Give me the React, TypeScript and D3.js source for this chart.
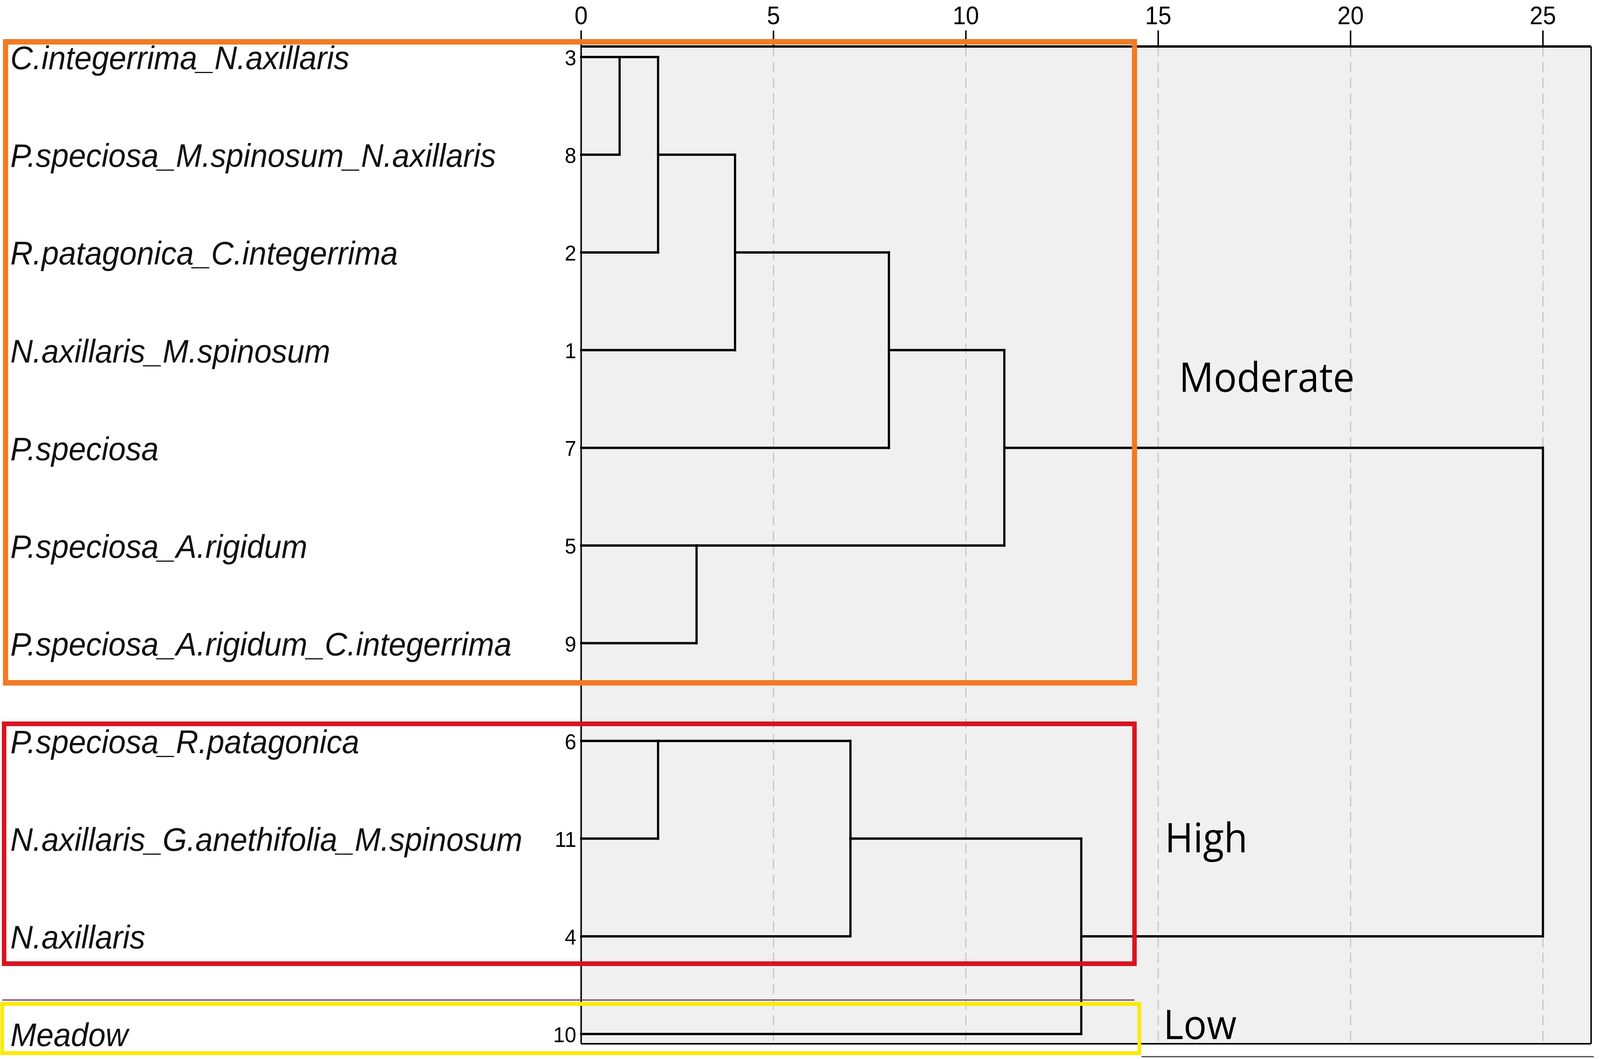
import React from 'react';
import * as d3 from 'd3';

// leaves, top to bottom, as the dendrogram orders them
const leafIds = ['3', '8', '2', '1', '7', '5', '9', '6', '11', '4', '10'];
const leafLabels = [
  'C.integerrima_N.axillaris',
  'P.speciosa_M.spinosum_N.axillaris',
  'R.patagonica_C.integerrima',
  'N.axillaris_M.spinosum',
  'P.speciosa',
  'P.speciosa_A.rigidum',
  'P.speciosa_A.rigidum_C.integerrima',
  'P.speciosa_R.patagonica',
  'N.axillaris_G.anethifolia_M.spinosum',
  'N.axillaris',
  'Meadow',
];

// agglomeration steps: cluster c{i+1} = mergeLeft[i] + mergeRight[i] at mergeHeights[i]
const mergeLeft = ['3', 'c1', 'c2', 'c3', '5', 'c4', '6', 'c7', 'c8', 'c6'];
const mergeRight = ['8', '2', '1', '7', '9', 'c5', '11', '4', '10', 'c9'];
const mergeHeights = [1, 2, 4, 8, 3, 11, 2, 7, 13, 25];

const axisTicks = [0, 5, 10, 15, 20, 25];

const groupNames = ['Moderate', 'High', 'Low'];

const W = 4317;
const H = 2711;

export default function App() {
  const x = d3.scaleLinear().domain([0, 25]).range([1568, 4163]);
  const y = d3.scaleLinear().domain([0, leafIds.length - 1]).range([146, 2647]);

  const plotTop = 119;
  const plotBottom = 2672;
  const plotRight = 4293;

  // node positions (row, height); SPSS draws a cluster on the rounded-down middle row
  const nodes: Record<string, { row: number; h: number }> = {};
  leafIds.forEach((id, i) => (nodes[id] = { row: i, h: 0 }));
  const segs: { x1: number; y1: number; x2: number; y2: number }[] = [];
  mergeLeft.forEach((l, i) => {
    const a = nodes[l];
    const b = nodes[mergeRight[i]];
    const h = mergeHeights[i];
    segs.push({ x1: x(a.h), y1: y(a.row), x2: x(h), y2: y(a.row) });
    segs.push({ x1: x(b.h), y1: y(b.row), x2: x(h), y2: y(b.row) });
    segs.push({ x1: x(h), y1: y(a.row), x2: x(h), y2: y(b.row) });
    nodes['c' + (i + 1)] = { row: Math.floor((a.row + b.row) / 2), h };
  });

  const labelFont = '"Liberation Sans", Arial, sans-serif';
  const groupFont = '"Open Sans", "Noto Sans", sans-serif';

  const boxes = [
    { x0: 15, y0: 107, x1: 3061, y1: 1748, color: '#f27a24', w: 14 },
    { x0: 11, y0: 1853, x1: 3061, y1: 2467, color: '#d8141f', w: 12 },
    { x0: 6, y0: 2570, x1: 3074, y1: 2696, color: '#fcea08', w: 10 },
  ];
  const groupPos = [
    { x: 3181, y: 1003 },
    { x: 3143, y: 2182 },
    { x: 3139, y: 2660 },
  ];

  return (
    <div style={{ position: 'fixed', left: 0, top: 0, width: '100vw', height: '100vh', overflow: 'hidden' }}>
      <svg width="100%" height="100%" viewBox={`0 0 ${W} ${H}`} preserveAspectRatio="none"
        style={{ display: 'block', background: '#ffffff' }}>
        <rect x={x(0)} y={plotTop} width={plotRight - x(0)} height={plotBottom - plotTop} fill="#f0f0f0" />

        {axisTicks.filter(t => t > 0).map(t => (
          <line key={'g' + t} x1={x(t)} x2={x(t)} y1={plotTop} y2={plotBottom}
            stroke="#c4c4c4" strokeWidth={3} strokeDasharray="26 14" />
        ))}

        {/* frame */}
        <line x1={x(0)} x2={plotRight} y1={plotTop} y2={plotTop} stroke="#000" strokeWidth={6} />
        <line x1={plotRight} x2={plotRight} y1={plotTop} y2={plotBottom} stroke="#000" strokeWidth={4} />
        <line x1={x(0)} x2={plotRight} y1={plotBottom} y2={plotBottom} stroke="#000" strokeWidth={4} />
        <line x1={x(0)} x2={x(0)} y1={plotTop} y2={plotBottom} stroke="#000" strokeWidth={4} />
        <line x1={3080} x2={4300} y1={2705} y2={2705} stroke="#444" strokeWidth={3} />

        {/* top axis */}
        {axisTicks.map(t => (
          <g key={'t' + t}>
            <line x1={x(t)} x2={x(t)} y1={78} y2={plotTop} stroke="#000" strokeWidth={4} />
            <text x={x(t)} y={40} textAnchor="middle" dominantBaseline="central"
              fontFamily={labelFont} fontSize={64} fill="#000">{t}</text>
          </g>
        ))}

        {/* dendrogram */}
        {segs.map((s, i) => (
          <line key={'s' + i} x1={s.x1} y1={s.y1} x2={s.x2} y2={s.y2}
            stroke="#000" strokeWidth={6} strokeLinecap="square" />
        ))}

        {/* leaf labels and case numbers */}
        {leafIds.map((id, i) => (
          <g key={'l' + id}>
            <text x={28} y={y(i) + 2} dominantBaseline="central" fontFamily={labelFont}
              fontStyle="italic" fontSize={84} fill="#111">{leafLabels[i]}</text>
            <text x={1555} y={y(i) + 2} textAnchor="end" dominantBaseline="central"
              fontFamily={labelFont} fontSize={56} fill="#000">{id}</text>
          </g>
        ))}

        {/* group boxes */}
        <line x1={6} x2={3061} y1={2560} y2={2560} stroke="#7a3450" strokeWidth={3} />
        {boxes.map((b, i) => (
          <rect key={'b' + i} x={b.x0} y={b.y0} width={b.x1 - b.x0} height={b.y1 - b.y0}
            fill="none" stroke={b.color} strokeWidth={b.w} />
        ))}

        {groupNames.map((g, i) => (
          <text key={g} x={groupPos[i].x} y={groupPos[i].y} fontFamily={groupFont}
            fontSize={104} fill="#000">{g}</text>
        ))}
      </svg>
    </div>
  );
}
